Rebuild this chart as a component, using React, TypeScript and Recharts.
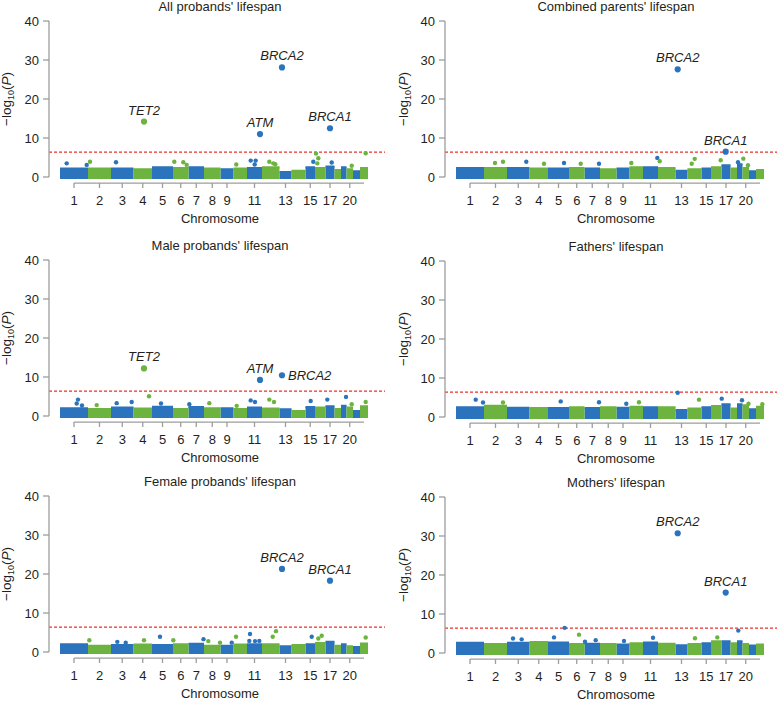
import React from "react";
import {
  ComposedChart,
  Area,
  Scatter,
  XAxis,
  YAxis,
  ReferenceLine,
} from "recharts";

const BLUE = "#2b73bd";
const GREEN = "#6db33f";
const RED = "#ec2f2a";
const AXIS = "#9d9d9d";
const INK = "#231f20";
const FONT = "'Liberation Sans', Arial, Helvetica, sans-serif";

// chromosomes and the width each one takes on the x axis
const chromosomes = [1, 2, 3, 4, 5, 6, 7, 8, 9, 10, 11, 12, 13, 14, 15, 16, 17, 18, 19, 20, 21, 22];
const chromosomeSpan = [280, 230, 225, 185, 210, 155, 155, 165, 130, 135, 150, 175, 120, 140, 95, 105, 90, 65, 55, 65, 70, 80];
const labelledChromosomes = [1, 2, 3, 4, 5, 6, 7, 8, 9, 11, 13, 15, 17, 20];
const yTicks = [0, 10, 20, 30, 40];
const threshold = 6.4;

// height of the dense band of genes per chromosome, -log10(P)
const allBand = [2.2, 2.2, 2.2, 2.0, 2.5, 2.3, 2.5, 2.2, 2.0, 2.2, 2.3, 2.5, 1.3, 1.6, 2.5, 2.3, 2.7, 1.8, 2.5, 2.0, 1.5, 2.3];
const parentsBand = [2.3, 2.3, 2.3, 2.2, 2.2, 2.3, 2.2, 2.0, 2.2, 2.5, 2.5, 2.3, 1.6, 2.0, 2.2, 2.5, 3.0, 2.2, 3.3, 2.3, 1.5, 1.8];
const maleBand = [2.0, 1.8, 2.2, 1.9, 2.4, 1.8, 2.3, 2.0, 2.0, 1.8, 2.2, 1.9, 1.7, 1.3, 2.3, 2.2, 2.5, 1.8, 2.6, 2.2, 1.3, 2.5];
const fathersBand = [2.5, 2.9, 2.4, 2.3, 2.3, 2.5, 2.3, 2.5, 2.4, 2.6, 2.5, 2.5, 1.8, 2.2, 2.5, 2.8, 3.3, 2.2, 3.3, 3.0, 2.0, 2.6];
const femaleBand = [2.0, 1.6, 1.8, 1.9, 1.8, 2.0, 2.1, 1.6, 1.6, 1.9, 2.0, 2.0, 1.5, 1.8, 2.0, 2.3, 2.6, 1.6, 2.0, 1.5, 1.3, 2.2];
const mothersBand = [2.6, 2.3, 2.6, 2.8, 2.7, 2.3, 2.4, 2.3, 2.2, 2.5, 2.7, 2.4, 2.0, 2.3, 2.5, 3.0, 3.0, 2.5, 3.0, 2.3, 1.9, 2.2];

// genes standing out above the band: [position, -log10(P)]
const allPoints = [
  [67, 3.5], [267, 3.1], [300, 3.9], [560, 3.8], [1143, 3.9], [1233, 3.8], [1267, 3.1],
  [1763, 3.2], [1907, 4.2], [1957, 4.2], [1947, 3.2], [2093, 3.9], [2133, 3.5], [2153, 3.3],
  [2533, 3.9], [2560, 6.0], [2583, 4.8], [2573, 3.5], [2717, 3.7], [2917, 2.9], [3057, 6.1],
];
const parentsPoints = [
  [390, 3.6], [470, 3.9], [703, 3.9], [880, 3.4], [1080, 3.6], [1247, 3.4], [1430, 3.4],
  [1753, 3.6], [2013, 4.9], [2037, 4.05], [2357, 3.4], [2387, 4.65], [2647, 4.3],
  [2820, 3.8], [2873, 4.7], [2920, 3.0],
];
const malePoints = [
  [180, 4.2], [167, 3.2], [220, 2.7], [367, 2.8], [567, 3.3], [717, 3.6], [890, 5.05],
  [1010, 3.2], [1293, 3.0], [1493, 3.3], [1767, 2.6], [1907, 4.0], [1950, 3.6],
  [2093, 4.2], [2140, 3.6], [2507, 3.85], [2673, 4.2], [2860, 4.9], [2917, 3.0], [3057, 3.6],
];
const fathersPoints = [
  [197, 4.45], [270, 3.7], [470, 3.7], [1047, 4.0], [1430, 3.8], [1703, 3.4], [1830, 3.8],
  [2217, 6.2], [2430, 4.45], [2657, 4.7], [2860, 4.3], [2925, 3.4], [3063, 3.3],
];
const femalePoints = [
  [293, 3.0], [573, 2.6], [657, 2.4], [840, 3.0], [1000, 3.9], [1133, 3.0], [1435, 3.3],
  [1483, 2.8], [1600, 2.4], [1717, 2.4], [1760, 3.9], [1900, 4.6], [1893, 2.85], [1950, 2.8],
  [1993, 2.85], [2127, 3.9], [2160, 5.35], [2517, 3.9], [2583, 3.45], [2617, 4.15], [3057, 3.7],
];
const mothersPoints = [
  [570, 3.7], [657, 3.5], [980, 4.0], [1087, 6.45], [1230, 4.7], [1290, 2.9], [1397, 3.3],
  [1680, 3.1], [1970, 3.9], [2390, 3.8], [2613, 4.0], [2823, 5.75],
];

// named significant genes: [gene, position, -log10(P)]
const allHits = [["TET2", 840, 14.2], ["ATM", 2000, 11.0], ["BRCA2", 2220, 28.1], ["BRCA1", 2700, 12.5]];
const parentsHits = [["BRCA2", 2217, 27.6], ["BRCA1", 2697, 6.5]];
const maleHits = [["TET2", 840, 12.2], ["ATM", 2000, 9.25], ["BRCA2", 2220, 10.45]];
const fathersHits: any[] = [];
const femaleHits = [["BRCA2", 2220, 21.3], ["BRCA1", 2700, 18.3]];
const mothersHits = [["BRCA2", 2217, 30.7], ["BRCA1", 2697, 15.5]];

const chromStart = chromosomeSpan.map((_, i) =>
  chromosomeSpan.slice(0, i).reduce((a, b) => a + b, 0)
);
const chromMid = chromosomeSpan.map((s, i) => chromStart[i] + s / 2);
const midLabel = new Map(chromosomes.map((c, i) => [chromMid[i], c]));
const tickPositions = labelledChromosomes.map((c) => chromMid[c - 1]);

const chromAt = (pos: number) => {
  const i = chromStart.findIndex((s, k) => pos >= s && pos < s + chromosomeSpan[k]);
  return chromosomes[i < 0 ? chromosomes.length - 1 : i];
};
const colorAt = (pos: number) => (chromAt(pos) % 2 === 1 ? BLUE : GREEN);

const bandRows = (heights: number[]) =>
  chromosomes.flatMap((c, i) => {
    const odd = c % 2 === 1;
    const row = { blue: odd ? heights[i] : null, green: odd ? null : heights[i] };
    return [
      { pos: chromStart[i], ...row },
      { pos: chromStart[i] + chromosomeSpan[i], ...row },
    ];
  });

const ChromTick = (props: any) => {
  const { x, y, payload } = props;
  return (
    <g>
      <line x1={x} x2={x} y1={y + 6} y2={y + 11} stroke={AXIS} strokeWidth={1.3} />
      <text x={x} y={y + 28} textAnchor="middle" fill={INK} fontSize={13} fontFamily={FONT}>
        {midLabel.get(payload.value)}
      </text>
    </g>
  );
};

const Dot = (props: any) => {
  const { cx, cy, payload } = props;
  return <circle cx={cx} cy={cy} r={2.2} fill={colorAt(payload.pos)} />;
};

function Panel({ title, band, points, hits, sideLabels = [], left, top, labelX }: any) {
  const rows = bandRows(band);
  const pts = points.map(([pos, p]: number[]) => ({ pos, p }));
  const hitRows = hits.map(([gene, pos, p]: any[]) => ({ gene, pos, p }));

  const HitDot = (props: any) => {
    const { cx, cy, payload } = props;
    const side = sideLabels.includes(payload.gene);
    return (
      <g>
        <circle cx={cx} cy={cy} r={3.1} fill={colorAt(payload.pos)} />
        <text
          x={side ? cx + 6 : cx}
          y={side ? cy + 4.5 : cy - 7}
          textAnchor={side ? "start" : "middle"}
          fontStyle="italic"
          fontSize={13}
          fontFamily={FONT}
          fill={INK}
        >
          {payload.gene}
        </text>
      </g>
    );
  };

  const yLabel = () => (
    <text
      x={labelX}
      y={99}
      transform={`rotate(-90, ${labelX}, 99)`}
      textAnchor="middle"
      fill={INK}
      fontSize={13.5}
      fontFamily={FONT}
    >
      <tspan>−log</tspan>
      <tspan fontSize={9} dy={3}>10</tspan>
      <tspan dy={-3}>(</tspan>
      <tspan fontStyle="italic">P</tspan>
      <tspan>)</tspan>
    </text>
  );

  return (
    <div style={{ position: "absolute", left, top, width: 390, height: 236 }}>
      <div
        style={{
          position: "absolute",
          left: 220,
          top: 0,
          transform: "translateX(-50%)",
          whiteSpace: "nowrap",
          fontSize: 13,
          lineHeight: "14px",
          color: INK,
          fontFamily: FONT,
        }}
      >
        {title}
      </div>
      <ComposedChart
        width={390}
        height={236}
        data={rows}
        margin={{ top: 21, right: 5, bottom: 0, left: 0 }}
      >
        <XAxis
          dataKey="pos"
          type="number"
          domain={[-110, 3250]}
          ticks={tickPositions}
          interval={0}
          tick={ChromTick}
          tickSize={0}
          tickMargin={0}
          tickLine={false}
          axisLine={false}
          height={59}
        />
        <YAxis
          type="number"
          domain={[0, 40]}
          ticks={yTicks}
          width={49}
          tickSize={6}
          tickMargin={4}
          axisLine={{ stroke: AXIS, strokeWidth: 1.3 }}
          tickLine={{ stroke: AXIS, strokeWidth: 1.3 }}
          tick={{ fill: INK, fontSize: 13, fontFamily: FONT }}
          label={{ content: yLabel }}
        />
        <ReferenceLine
          segment={[
            { x: chromMid[0], y: -1.55 },
            { x: chromMid[chromMid.length - 1], y: -1.55 },
          ]}
          stroke={AXIS}
          strokeWidth={1.3}
          ifOverflow="visible"
        />
        <ReferenceLine y={threshold} stroke={RED} strokeDasharray="3 2" strokeWidth={1.2} />
        <Area
          dataKey="blue"
          type="linear"
          baseValue={-0.5}
          fill={BLUE}
          fillOpacity={1}
          stroke={BLUE}
          strokeWidth={2}
          dot={false}
          activeDot={false}
          isAnimationActive={false}
        />
        <Area
          dataKey="green"
          type="linear"
          baseValue={-0.5}
          fill={GREEN}
          fillOpacity={1}
          stroke={GREEN}
          strokeWidth={2}
          dot={false}
          activeDot={false}
          isAnimationActive={false}
        />
        <Scatter data={pts} dataKey="p" shape={Dot} isAnimationActive={false} />
        {hitRows.length > 0 && (
          <Scatter data={hitRows} dataKey="p" shape={HitDot} isAnimationActive={false} />
        )}
      </ComposedChart>
      <div
        style={{
          position: "absolute",
          left: 220,
          top: 212,
          transform: "translateX(-50%)",
          whiteSpace: "nowrap",
          fontSize: 13,
          lineHeight: "14px",
          color: INK,
          fontFamily: FONT,
        }}
      >
        Chromosome
      </div>
    </div>
  );
}

export default function App() {
  return (
    <div
      style={{
        position: "absolute",
        left: 0,
        top: 0,
        width: 777,
        height: 702,
        overflow: "hidden",
        background: "#fff",
      }}
    >
      <Panel title="All probands' lifespan" band={allBand} points={allPoints} hits={allHits} left={0} top={0} labelX={11} />
      <Panel title="Combined parents' lifespan" band={parentsBand} points={parentsPoints} hits={parentsHits} left={396} top={0} labelX={12} />
      <Panel title="Male probands' lifespan" band={maleBand} points={malePoints} hits={maleHits} sideLabels={["BRCA2"]} left={0} top={239} labelX={11} />
      <Panel title="Fathers' lifespan" band={fathersBand} points={fathersPoints} hits={fathersHits} left={396} top={240} labelX={12} />
      <Panel title="Female probands' lifespan" band={femaleBand} points={femalePoints} hits={femaleHits} left={0} top={475} labelX={11} />
      <Panel title="Mothers' lifespan" band={mothersBand} points={mothersPoints} hits={mothersHits} left={396} top={476} labelX={12} />
    </div>
  );
}
